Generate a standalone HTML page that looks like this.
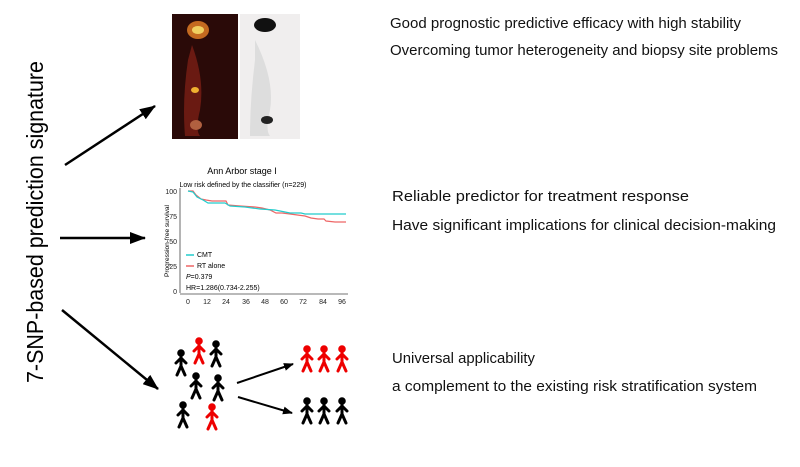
<!DOCTYPE html>
<html><head><style>
body{margin:0;background:#fff;}
svg{display:block;font-family:"Liberation Sans",Arial,sans-serif;}
</style></head><body>
<svg width="800" height="467" viewBox="0 0 800 467" xmlns="http://www.w3.org/2000/svg">
<defs>
<marker id="ah" markerWidth="10" markerHeight="8" refX="9" refY="4" orient="auto" markerUnits="userSpaceOnUse"><path d="M0,0 L10,4 L0,8 z" fill="#000"/></marker>
<marker id="ah2" markerWidth="16" markerHeight="12" refX="15" refY="6" orient="auto" markerUnits="userSpaceOnUse"><path d="M0,0 L16,6 L0,12 z" fill="#000"/></marker>
<g id="p"><circle cx="0" cy="3" r="3.3"/><path d="M0,6 L0,16 M-5,13 L0,8 L5,13 M-4,25 L0,16 L4,25" fill="none" stroke-width="3" stroke-linecap="round" stroke-linejoin="round"/></g>
</defs>
<rect width="800" height="467" fill="#fff"/>
<text transform="translate(43,222) rotate(-90)" text-anchor="middle" font-size="23" textLength="322" lengthAdjust="spacingAndGlyphs">7-SNP-based prediction signature</text>
<g stroke="#000" stroke-width="2.5">
<line x1="65" y1="165" x2="155" y2="106" marker-end="url(#ah2)"/>
<line x1="60" y1="238" x2="145" y2="238" marker-end="url(#ah2)"/>
<line x1="62" y1="310" x2="158" y2="389" marker-end="url(#ah2)"/>
</g>
<rect x="172" y="14" width="66" height="125" fill="#2a0a08"/>
<ellipse cx="198" cy="30" rx="11" ry="9" fill="#c46a20"/>
<ellipse cx="198" cy="30" rx="6" ry="4" fill="#f0d060"/>
<path d="M192,45 Q205,80 200,110 Q195,130 200,136 L185,136 Q182,100 188,60 Z" fill="#6a1a12"/>
<ellipse cx="195" cy="90" rx="4" ry="3" fill="#f0b030"/>
<ellipse cx="196" cy="125" rx="6" ry="5" fill="#b06040"/>
<rect x="240" y="14" width="60" height="125" fill="#f0eeee"/>
<ellipse cx="265" cy="25" rx="11" ry="7" fill="#111"/>
<path d="M255,40 Q275,80 270,110 Q265,130 270,136 L250,136 Q250,100 255,60 Z" fill="#ddd"/>
<ellipse cx="267" cy="120" rx="6" ry="4" fill="#222"/>
<text x="242" y="174" text-anchor="middle" font-size="9">Ann Arbor stage I</text>
<text x="243" y="187" text-anchor="middle" font-size="7">Low risk defined by the classifier (n=229)</text>
<line x1="180" y1="188" x2="180" y2="293" stroke="#444" stroke-width="0.8"/>
<line x1="180" y1="294" x2="348" y2="294" stroke="#444" stroke-width="0.8"/>
<g font-size="7" text-anchor="end" fill="#222">
<text x="177" y="194">100</text><text x="177" y="219">75</text><text x="177" y="244">50</text><text x="177" y="269">25</text><text x="177" y="294">0</text></g>
<text transform="translate(169,241) rotate(-90)" text-anchor="middle" font-size="6.5">Progression-free survival</text>
<g font-size="7" text-anchor="middle" fill="#222">
<text x="188" y="304">0</text><text x="207" y="304">12</text><text x="226" y="304">24</text><text x="246" y="304">36</text><text x="265" y="304">48</text><text x="284" y="304">60</text><text x="303" y="304">72</text><text x="323" y="304">84</text><text x="342" y="304">96</text></g>
<polyline fill="none" stroke="#e66" stroke-width="1.2" points="188,191 193,191 196,195 201,199 206,200 212,201 226,201 228,205 240,206 255,207 262,208 270,210 276,213 282,213 290,214 305,216 311,218 318,219 324,219 326,221 335,222 346,222"/>
<polyline fill="none" stroke="#2cc" stroke-width="1.2" points="188,191 193,192 197,197 203,200 208,203 225,203 230,206 245,207 260,209 275,210 285,212 290,213 301,213 305,214 346,214"/>
<line x1="186" y1="255" x2="194" y2="255" stroke="#2cc" stroke-width="1.5"/><text x="197" y="257" font-size="7">CMT</text>
<line x1="186" y1="266" x2="194" y2="266" stroke="#e66" stroke-width="1.5"/><text x="197" y="268" font-size="7">RT alone</text>
<text x="186" y="279" font-size="7"><tspan font-style="italic">P</tspan>=0.379</text>
<text x="186" y="290" font-size="7">HR=1.286(0.734-2.255)</text>
<g fill="#000" stroke="#000">
<use href="#p" x="181" y="350"/><use href="#p" x="216" y="341"/><use href="#p" x="196" y="373"/><use href="#p" x="218" y="375"/><use href="#p" x="183" y="402"/>
<use href="#p" x="307" y="398"/><use href="#p" x="324" y="398"/><use href="#p" x="342" y="398"/>
</g>
<g fill="#e00" stroke="#e00">
<use href="#p" x="199" y="338"/><use href="#p" x="212" y="404"/>
<use href="#p" x="307" y="346"/><use href="#p" x="324" y="346"/><use href="#p" x="342" y="346"/>
</g>
<g stroke="#000" stroke-width="2">
<line x1="237" y1="383" x2="293" y2="364" marker-end="url(#ah)"/>
<line x1="238" y1="397" x2="292" y2="413" marker-end="url(#ah)"/>
</g>
<g font-size="15" fill="#111" lengthAdjust="spacingAndGlyphs">
<text x="390" y="28" textLength="351" lengthAdjust="spacingAndGlyphs">Good prognostic predictive efficacy with high stability</text>
<text x="390" y="55" textLength="388" lengthAdjust="spacingAndGlyphs">Overcoming tumor heterogeneity and biopsy site problems</text>
<text x="392" y="201" textLength="297" lengthAdjust="spacingAndGlyphs">Reliable predictor for treatment response</text>
<text x="392" y="230" textLength="384" lengthAdjust="spacingAndGlyphs">Have significant implications for clinical decision-making</text>
<text x="392" y="363" textLength="143" lengthAdjust="spacingAndGlyphs">Universal applicability</text>
<text x="392" y="391" textLength="365" lengthAdjust="spacingAndGlyphs">a complement to the existing risk stratification system</text>
</g>
</svg>
</body></html>
